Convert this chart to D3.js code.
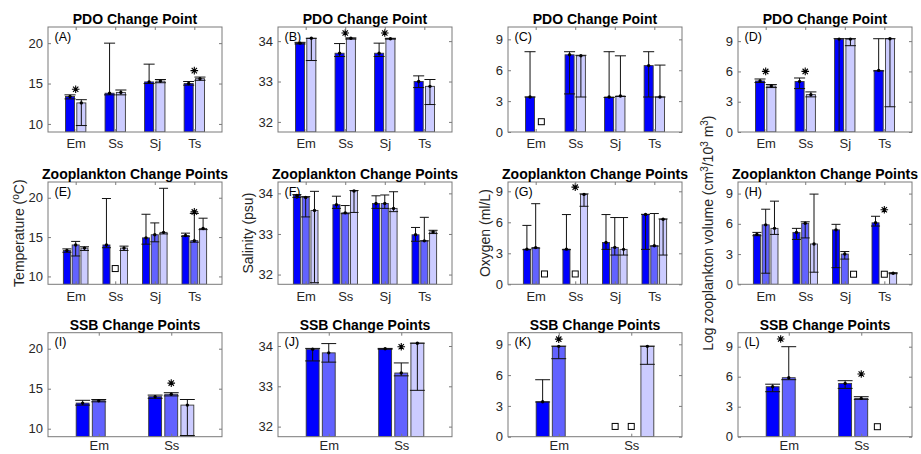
<!DOCTYPE html>
<html>
<head>
<meta charset="utf-8">
<script src="https://cdn.jsdelivr.net/npm/d3@7"></script>
<style>
  body { margin: 0; background: #fff; }
  svg { display: block; font-family: "Liberation Sans", Arial, Helvetica, sans-serif; }
</style>
</head>
<body>
<svg id="fig" width="921" height="454"></svg>
<script>
// Station categories and tick values
const stations4 = ["Em", "Ss", "Sj", "Ts"];
const stations2 = ["Em", "Ss"];
const tempTicks = [10, 15, 20];
const salTicks = [32, 33, 34];
const unitTicks = [0, 3, 6, 9];

// Bars: per station, per period -> [value, lower, upper]; null = no bar
// PDO change point (2 periods)
const pdoTemp = [
  [[13.4, 13.1, 13.6], [12.6, 9.8, 13.0]],
  [[13.8, 13.6, 20.0], [13.9, 13.6, 14.2]],
  [[15.2, 15.0, 17.4], [15.3, 15.1, 15.5]],
  [[15.0, 14.8, 15.25], [15.6, 15.4, 15.8]]
];
const pdoSal = [
  [[33.95, 33.93, 33.97], [34.07, 33.52, 34.07]],
  [[33.70, 33.62, 33.94], [34.07, 34.05, 34.08]],
  [[33.70, 33.62, 33.95], [34.06, 34.05, 34.07]],
  [[33.00, 32.85, 33.14], [32.88, 32.43, 33.05]]
];
const pdoOxy = [
  [[3.4, 3.4, 7.8], null],
  [[7.5, 3.7, 7.8], [7.4, 3.4, 7.45]],
  [[3.4, 3.35, 7.8], [3.5, 3.45, 7.4]],
  [[6.45, 3.4, 7.8], [3.4, 3.4, 6.5]]
];
const pdoZoo = [
  [[5.05, 4.9, 5.25], [4.55, 4.4, 4.7]],
  [[5.0, 4.3, 5.35], [3.7, 3.48, 3.97]],
  [[9.2, 0.02, 9.25], [9.2, 8.55, 9.25]],
  [[6.1, 6.05, 9.24], [9.24, 2.5, 9.24]]
];
// Zooplankton change points (3 periods)
const zooTemp = [
  [[13.3, 13.07, 13.5], [14.0, 12.6, 14.45], [13.6, 13.3, 13.77]],
  [[14.0, 13.65, 19.9], null, [13.6, 13.3, 13.85]],
  [[14.9, 14.1, 17.9], [15.3, 14.4, 16.8], [15.6, 15.4, 21.2]],
  [[15.2, 15.1, 15.5], [14.55, 14.35, 18.0], [16.1, 15.95, 17.4]]
];
const zooSal = [
  [[33.95, 33.9, 33.97], [33.9, 33.42, 33.92], [33.58, 31.8, 34.05]],
  [[33.72, 33.63, 33.93], [33.52, 33.5, 33.7], [34.06, 33.53, 34.07]],
  [[33.75, 33.63, 33.94], [33.75, 33.63, 33.96], [33.63, 33.55, 34.04]],
  [[32.98, 32.82, 33.16], [32.83, 32.83, 33.41], [33.05, 33.01, 33.09]]
];
const zooOxy = [
  [[3.4, 3.35, 5.7], [3.55, 3.5, 7.8], null],
  [[3.4, 3.35, 6.75], null, [8.7, 7.55, 8.75]],
  [[4.05, 3.38, 6.75], [3.57, 2.83, 6.46], [3.38, 2.83, 6.46]],
  [[6.75, 3.38, 6.77], [3.73, 3.7, 6.85], [6.3, 2.83, 6.32]]
];
const zooZoo = [
  [[4.95, 4.82, 5.15], [5.9, 1.1, 7.45], [5.55, 4.95, 8.25]],
  [[5.15, 4.45, 5.55], [6.05, 4.6, 6.2], [4.0, 1.2, 8.95]],
  [[5.4, 1.65, 5.95], [3.0, 2.5, 3.25], null],
  [[6.1, 5.78, 6.75], null, [1.1, 1.05, 1.15]]
];
// SSB change points (3 periods)
const ssbTemp = [
  [[13.2, 12.95, 13.55], [13.5, 13.36, 13.65], null],
  [[14.0, 13.8, 14.2], [14.3, 14.1, 14.5], [12.95, 9.15, 13.65]]
];
const ssbSal = [
  [[33.92, 33.63, 33.94], [33.83, 33.6, 34.06], null],
  [[33.93, 33.92, 33.94], [33.33, 33.26, 33.58], [34.07, 32.9, 34.07]]
];
const ssbOxy = [
  [[3.4, 3.38, 5.55], [8.8, 7.6, 8.82], null],
  [null, null, [8.8, 7.05, 8.82]]
];
const ssbZoo = [
  [[5.0, 4.5, 5.25], [5.9, 5.7, 9.0], null],
  [[5.33, 4.83, 5.6], [3.83, 3.73, 4.0], null]
];

// Open squares for periods without data: [station, period, value]
const pdoOxyMissing = [[0, 1, 1]];
const zooTempMissing = [[1, 1, 11]];
const zooOxyMissing = [[0, 2, 1], [1, 1, 1]];
const zooZooMissing = [[2, 2, 1], [3, 1, 1]];
const ssbOxyMissing = [[1, 0, 1], [1, 1, 1]];
const ssbZooMissing = [[1, 2, 1]];

// Significance stars: [station, period position, value]
const pdoTempStars = [[0, 0.5, 14.3], [3, 0.5, 16.6]];
const pdoSalStars = [[1, 0.5, 34.2], [2, 0.5, 34.2]];
const pdoZooStars = [[0, 0.5, 6.0], [1, 0.5, 6.0]];
const zooTempStars = [[3, 1, 18.2]];
const zooOxyStars = [[1, 1, 9.4]];
const zooZooStars = [[3, 1, 7.4]];
const ssbTempStars = [[1, 1, 15.7]];
const ssbSalStars = [[1, 1, 33.98]];
const ssbOxyStars = [[0, 1, 9.5]];
const ssbZooStars = [[0, 0.5, 9.77], [1, 1, 6.27]];

const dark = "#0000ff", mid = "#6262ff", light = "#ccccff";

const panels = [
  {tag: "(A)", title: "PDO Change Point", row: 0, col: 0, cats: stations4, bars: pdoTemp, colors: [dark, light], miss: [], stars: pdoTempStars, dom: [9, 22], ticks: tempTicks},
  {tag: "(B)", title: "PDO Change Point", row: 0, col: 1, cats: stations4, bars: pdoSal, colors: [dark, light], miss: [], stars: pdoSalStars, dom: [31.75, 34.35], ticks: salTicks},
  {tag: "(C)", title: "PDO Change Point", row: 0, col: 2, cats: stations4, bars: pdoOxy, colors: [dark, light], miss: pdoOxyMissing, stars: [], dom: [0, 10.2], ticks: unitTicks},
  {tag: "(D)", title: "PDO Change Point", row: 0, col: 3, cats: stations4, bars: pdoZoo, colors: [dark, light], miss: [], stars: pdoZooStars, dom: [0, 10.4], ticks: unitTicks},
  {tag: "(E)", title: "Zooplankton Change Points", row: 1, col: 0, cats: stations4, bars: zooTemp, colors: [dark, mid, light], miss: zooTempMissing, stars: zooTempStars, dom: [9, 22], ticks: tempTicks,
    ylab: [["Temperature ("], ["o", 1], ["C)"]], ylabX: 24},
  {tag: "(F)", title: "Zooplankton Change Points", row: 1, col: 1, cats: stations4, bars: zooSal, colors: [dark, mid, light], miss: [], stars: [], dom: [31.76, 34.28], ticks: salTicks,
    ylab: [["Salinity (psu)"]], ylabX: 253},
  {tag: "(G)", title: "Zooplankton Change Points", row: 1, col: 2, cats: stations4, bars: zooOxy, colors: [dark, mid, light], miss: zooOxyMissing, stars: zooOxyStars, dom: [0, 9.9], ticks: unitTicks,
    ylab: [["Oxygen (ml/L)"]], ylabX: 490},
  {tag: "(H)", title: "Zooplankton Change Points", row: 1, col: 3, cats: stations4, bars: zooZoo, colors: [dark, mid, light], miss: zooZooMissing, stars: zooZooStars, dom: [0, 10.15], ticks: unitTicks,
    ylab: [["Log zooplankton volume (cm"], ["3", 1], ["/10"], ["3", 1], [" m"], ["3", 1], [")"]], ylabX: 713},
  {tag: "(I)", title: "SSB Change Points", row: 2, col: 0, cats: stations2, bars: ssbTemp, colors: [dark, mid, light], miss: [], stars: ssbTempStars, dom: [9, 22], ticks: tempTicks},
  {tag: "(J)", title: "SSB Change Points", row: 2, col: 1, cats: stations2, bars: ssbSal, colors: [dark, mid, light], miss: [], stars: ssbSalStars, dom: [31.75, 34.33], ticks: salTicks},
  {tag: "(K)", title: "SSB Change Points", row: 2, col: 2, cats: stations2, bars: ssbOxy, colors: [dark, mid, light], miss: ssbOxyMissing, stars: ssbOxyStars, dom: [0, 10.13], ticks: unitTicks},
  {tag: "(L)", title: "SSB Change Points", row: 2, col: 3, cats: stations2, bars: ssbZoo, colors: [dark, mid, light], miss: ssbZooMissing, stars: ssbZooStars, dom: [0, 10.4], ticks: unitTicks}
];

const colLeft = [48, 278, 508, 738];
const panelW = 174;
const rowBox = [[27, 132], [182, 284.3], [332.7, 436.7]];
const xPad = [7, 7, 4];
const frame = "#7a7a7a";

const svg = d3.select("#fig");

panels.forEach(p => {
  const [top, bottom] = rowBox[p.row];
  const h = bottom - top;
  const g = svg.append("g").attr("transform", "translate(" + colLeft[p.col] + "," + top + ")");

  const x = d3.scaleLinear().domain([0.3, p.cats.length + 0.7]).range([0, panelW]);
  const y = d3.scaleLinear().domain(p.dom).range([h, 0]);

  // matlab style grouped bar offsets
  const n = p.colors.length;
  const gw = Math.min(0.8, n / (n + 1.5));
  const slotX = (ci, s) => x(ci + 1 + (s - (n - 1) / 2) * gw / n);
  const bw = x(gw / n * 0.8) - x(0);
  const capW = bw + 2;

  const items = [];
  p.bars.forEach((grp, ci) => grp.forEach((b, s) => {
    if (b) items.push({ci: ci, s: s, v: b[0], lo: b[1], hi: b[2]});
  }));

  const clip = "clip" + p.tag.replace(/\W/g, "");
  g.append("clipPath").attr("id", clip).append("rect").attr("width", panelW).attr("height", h);
  const plot = g.append("g").attr("clip-path", "url(#" + clip + ")");

  plot.selectAll(".bar")
    .data(items)
    .enter()
    .append("rect")
      .attr("x", d => slotX(d.ci, d.s) - bw / 2)
      .attr("y", d => y(d.v))
      .attr("width", bw)
      .attr("height", d => Math.max(h - y(d.v), 0))
      .attr("fill", d => p.colors[d.s])
      .attr("stroke", "#3a3a3a")
      .attr("stroke-width", 0.9);

  // error bars
  const eb = plot.selectAll(".eb").data(items).enter().append("g")
    .attr("stroke", "#111").attr("stroke-width", 1);
  eb.append("line")
    .attr("x1", d => slotX(d.ci, d.s)).attr("x2", d => slotX(d.ci, d.s))
    .attr("y1", d => y(d.lo)).attr("y2", d => y(d.hi));
  eb.append("line")
    .attr("x1", d => slotX(d.ci, d.s) - capW / 2).attr("x2", d => slotX(d.ci, d.s) + capW / 2)
    .attr("y1", d => y(d.lo)).attr("y2", d => y(d.lo));
  eb.append("line")
    .attr("x1", d => slotX(d.ci, d.s) - capW / 2).attr("x2", d => slotX(d.ci, d.s) + capW / 2)
    .attr("y1", d => y(d.hi)).attr("y2", d => y(d.hi));
  plot.selectAll(".dot").data(items).enter().append("circle")
    .attr("cx", d => slotX(d.ci, d.s)).attr("cy", d => y(d.v))
    .attr("r", 1.7).attr("fill", "#000");

  // no-data squares
  plot.selectAll(".miss").data(p.miss).enter().append("rect")
    .attr("x", d => slotX(d[0], d[1]) - 3).attr("y", d => y(d[2]) - 3)
    .attr("width", 6).attr("height", 6)
    .attr("fill", "#fff").attr("stroke", "#000").attr("stroke-width", 1);

  // asterisks
  const r = 3.8;
  const starPath = "M0," + (-r) + "V" + r + "M" + (-r) + ",0H" + r +
    "M" + (-r * 0.7) + "," + (-r * 0.7) + "L" + (r * 0.7) + "," + (r * 0.7) +
    "M" + (-r * 0.7) + "," + (r * 0.7) + "L" + (r * 0.7) + "," + (-r * 0.7);
  g.selectAll(".star").data(p.stars).enter().append("path")
    .attr("transform", d => "translate(" + slotX(d[0], d[1]) + "," + y(d[2]) + ")")
    .attr("d", starPath)
    .attr("stroke", "#000").attr("stroke-width", 1.1).attr("fill", "none");

  // axes, ticks inward on all four sides
  const tickIdx = d3.range(1, p.cats.length + 1);
  g.append("g").call(d3.axisLeft(y).tickValues(p.ticks).tickFormat(d3.format("d")).tickSize(-3).tickPadding(5));
  g.append("g").attr("transform", "translate(" + panelW + ",0)")
    .call(d3.axisRight(y).tickValues(p.ticks).tickSize(-3).tickFormat(""));
  g.append("g").attr("transform", "translate(0," + h + ")")
    .call(d3.axisBottom(x).tickValues(tickIdx).tickFormat(i => p.cats[i - 1]).tickSize(-3).tickPadding(xPad[p.row]));
  g.append("g")
    .call(d3.axisTop(x).tickValues(tickIdx).tickSize(-3).tickFormat(""));
  g.selectAll(".domain").remove();
  g.selectAll(".tick line").attr("stroke", frame);
  g.selectAll(".tick text")
    .attr("fill", "#262626")
    .attr("font-size", 13)
    .attr("font-family", "Liberation Sans, Arial, sans-serif");

  g.append("rect").attr("width", panelW).attr("height", h)
    .attr("fill", "none").attr("stroke", frame).attr("stroke-width", 1);

  // panel tag and title
  g.append("text").attr("x", 6.5).attr("y", 13.5)
    .attr("font-size", 12.5).attr("fill", "#000").text(p.tag);
  g.append("text").attr("x", panelW / 2).attr("y", -3)
    .attr("text-anchor", "middle").attr("font-size", 14).attr("font-weight", "bold")
    .attr("fill", "#000").text(p.title);

  // y label (middle row only)
  if (p.ylab) {
    const yc = top + h / 2;
    const t = svg.append("text")
      .attr("transform", "translate(" + p.ylabX + "," + yc + ") rotate(-90)")
      .attr("text-anchor", "middle").attr("font-size", 14).attr("fill", "#262626");
    let shifted = false;
    p.ylab.forEach(seg => {
      const ts = t.append("tspan").text(seg[0]);
      if (seg[1]) { ts.attr("dy", -5).attr("font-size", 10); shifted = true; }
      else if (shifted) { ts.attr("dy", 5); shifted = false; }
    });
  }
});
</script>
</body>
</html>
